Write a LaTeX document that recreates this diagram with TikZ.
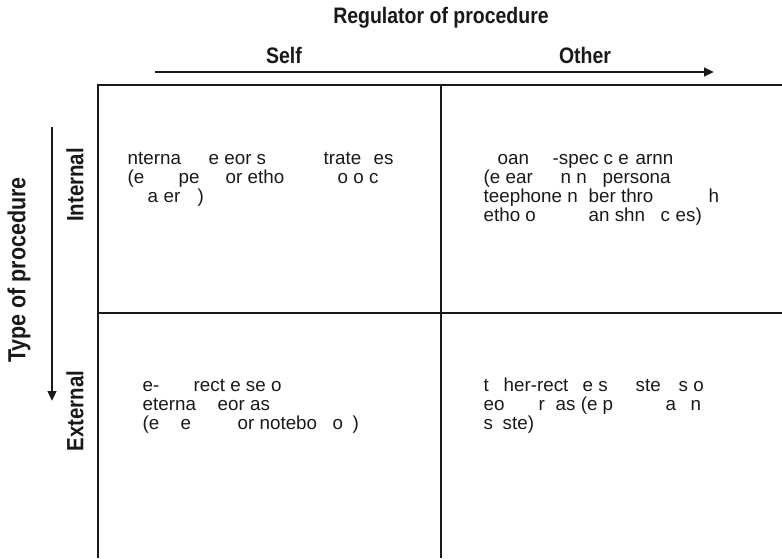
\documentclass[tikz,border=0pt]{standalone}
\usepackage{fontspec}
\setmainfont{Liberation Sans}
\newfontfamily\condbold[FakeStretch=0.87]{Liberation Sans Bold}
\usetikzlibrary{arrows.meta}
\newcommand{\fr}[2]{\makebox[0pt][l]{\hspace{#1pt}#2}}
\begin{document}
\begin{tikzpicture}[x=1pt,y=-1pt,
  gridline/.style={line width=1.3pt, black!90},
  axisarrow/.style={line width=2.5pt, black!90, -{Triangle[length=10pt,width=8.5pt]}},
  hdr/.style={font=\condbold\fontsize{22.4}{24}\selectfont, inner sep=0pt, text=black!90},
  sidehdr/.style={font=\condbold\fontsize{23.5}{24}\selectfont, inner sep=0pt, text=black!90},
  bigtitle/.style={font=\condbold\fontsize{24.7}{28}\selectfont, inner sep=0pt, text=black!90},
  body/.style={font=\fontsize{18.8}{19}\selectfont, anchor=base west, inner sep=0pt, text=black!90}]
\useasboundingbox (0,0) rectangle (782,558);
% grid
\coordinate (gTL) at (98,85);
\coordinate (gTR) at (782,85);
\coordinate (gBL) at (98,558);
\coordinate (gMT) at (441,85);
\coordinate (gMB) at (441,558);
\coordinate (gML) at (98,313);
\coordinate (gMR) at (782,313);
\draw[gridline] (gTR) -- (gTL) -- (gBL);
\draw[gridline] (gMT) -- (gMB);
\draw[gridline] (gML) -- (gMR);
% top axis
\node[hdr] (title) at (441,18) {Regulator of procedure};
\node[hdr] (self) at (284,55) {Self};
\node[hdr] (other) at (585,55) {Other};
\coordinate (hS) at (155,72);
\coordinate (hE) at (714,72);
\draw[axisarrow] (hS) -- (hE);
% left axis
\node[bigtitle, rotate=90] (typeproc) at (19,270) {Type of procedure};
\node[sidehdr, rotate=90] (internal) at (75,185) {Internal};
\node[sidehdr, rotate=90] (external) at (75,411) {External};
\coordinate (vS) at (52,127);
\coordinate (vE) at (52,401);
\draw[axisarrow] (vS) -- (vE);
% top-left cell
\node[body] (tl1) at (127,164) {\fr{0}{nterna}\fr{81}{e eor s}\fr{196}{trate}\fr{246}{es}};
\node[body] (tl2) at (127,183) {\fr{0}{(e}\fr{51}{pe}\fr{98}{or etho}\fr{210}{o o c}};
\node[body] (tl3) at (127,202) {\fr{20}{a}\fr{36}{er}\fr{70}{)}};
% top-right cell
\node[body] (tr1) at (483,164) {\fr{14}{oan}\fr{69}{-spec}\fr{120}{c e}\fr{152}{arnn}};
\node[body] (tr2) at (483,183) {\fr{0}{(e ear}\fr{77}{n n}\fr{119}{persona}};
\node[body] (tr3) at (483,202) {\fr{0}{teephone n}\fr{105}{ber thro}\fr{225}{h}};
\node[body] (tr4) at (483,221) {\fr{0}{etho o}\fr{105}{an shn}\fr{177}{c}\fr{192}{es)}};
% bottom-left cell
\node[body] (bl1) at (142,391) {\fr{0}{e-}\fr{51}{rect e se o}};
\node[body] (bl2) at (142,410) {\fr{0}{eterna}\fr{75}{eor as}};
\node[body] (bl3) at (142,429) {\fr{0}{(e}\fr{38}{e}\fr{95}{or notebo}\fr{190}{o}\fr{210}{)}};
% bottom-right cell
\node[body] (br1) at (483,391) {\fr{0}{t}\fr{20}{her-rect}\fr{99}{e s}\fr{152}{ste}\fr{195}{s o}};
\node[body] (br2) at (483,410) {\fr{0}{eo}\fr{55}{r}\fr{72}{as (e p}\fr{182}{a}\fr{207}{n}};
\node[body] (br3) at (483,429) {\fr{0}{s}\fr{19}{ste)}};
\end{tikzpicture}
\end{document}
